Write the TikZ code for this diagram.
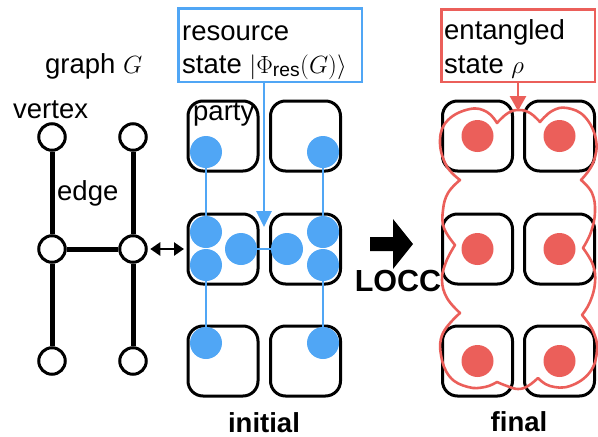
\documentclass[tikz,border=0pt]{standalone}
\usepackage{fontspec}
\setmainfont{Liberation Sans}
\usetikzlibrary{arrows.meta}
\definecolor{myblue}{RGB}{80,166,245}
\definecolor{myred}{RGB}{235,95,90}
\pgfdeclarelayer{bg}
\pgfsetlayers{bg,main}
\begin{document}
\begin{tikzpicture}[x=1pt,y=-1pt,
  lbl/.style={inner sep=0,font=\fontsize{27.5}{32}\selectfont},
  lblb/.style={inner sep=0,font=\bfseries\fontsize{27.5}{32}\selectfont},
  party/.style={draw,line width=3pt,rounded corners=15pt,minimum width=70pt,minimum height=70pt,inner sep=0},
  bdot/.style={circle,fill=myblue,minimum size=32pt,inner sep=0},
  rdot/.style={circle,fill=myred,minimum size=32pt,inner sep=0},
  vert/.style={circle,draw,fill=white,line width=3pt,minimum size=26.5pt,inner sep=0},
  edgeline/.style={line width=5pt},
  bline/.style={myblue,line width=2.6pt},
  cloudline/.style={myred,line width=2.6pt,line join=round},
  tagbox/.style={line width=2.5pt,inner sep=0},
]
\useasboundingbox (0,0) rectangle (598,437);

% party boxes
\begin{pgfonlayer}{bg}
\node[party] (i11) at (223,136) {};
\node[party] (i12) at (305.5,136) {};
\node[party] (i21) at (223,249) {};
\node[party] (i22) at (305.5,249) {};
\node[party] (i31) at (223,361) {};
\node[party] (i32) at (305.5,361) {};
\node[party] (f11) at (477.5,136) {};
\node[party] (f12) at (559.5,136) {};
\node[party] (f21) at (477.5,249) {};
\node[party] (f22) at (559.5,249) {};
\node[party] (f31) at (477.5,361) {};
\node[party] (f32) at (559.5,361) {};
\end{pgfonlayer}

% graph G
\node[vert] (v11) at (52,137) {};
\node[vert] (v12) at (133,137) {};
\node[vert] (v21) at (52,249) {};
\node[vert] (v22) at (133,249) {};
\node[vert] (v31) at (52,361) {};
\node[vert] (v32) at (133,361) {};
\begin{pgfonlayer}{bg}
\draw[edgeline] (v11) -- (v21);
\draw[edgeline] (v21) -- (v31);
\draw[edgeline] (v12) -- (v22);
\draw[edgeline] (v22) -- (v32);
\draw[edgeline] (v21) -- (v22);
\end{pgfonlayer}
\draw[line width=2.8pt,{Triangle[width=13pt,length=10pt]}-{Triangle[width=13pt,length=10pt]},shorten <=2.5pt,shorten >=2.5pt] (v22) -- (i21);

% labels left
\node[lbl,anchor=base west] (lg) at (45,73) {graph $G$};
\node[lbl,anchor=base west] (lv) at (13,118) {vertex};
\node[lbl,anchor=base west] (le) at (57,200) {edge};
\node[lbl,anchor=base west] (lp) at (193,120) {party};

% blue resource state
\node[bdot] (b11) at (206,152) {};
\node[bdot] (b12) at (323,152) {};
\node[bdot] (b21a) at (206,232) {};
\node[bdot] (b21b) at (206,265) {};
\node[bdot] (b21c) at (241,249) {};
\node[bdot] (b22c) at (287,249) {};
\node[bdot] (b22a) at (323,232) {};
\node[bdot] (b22b) at (323,265) {};
\node[bdot] (b31) at (206,343) {};
\node[bdot] (b32) at (323,343) {};
\draw[bline] (b11) -- (b21a);
\draw[bline] (b21b) -- (b31);
\draw[bline] (b12) -- (b22a);
\draw[bline] (b22b) -- (b32);
\draw[bline] (b21c) -- (b22c);

\node[tagbox,draw=myblue,minimum width=183.5pt,minimum height=73.5pt] (res) at (270,45) {};
\node[lbl,anchor=base west] (rt1) at (182,40) {resource};
\node[lbl,anchor=base west] (rt2) at (182,73) {state $|\Phi_{\mathrm{res}}(G)\rangle$};
\coordinate (bt) at (264,227);
\draw[myblue,line width=2.8pt,-{Triangle[width=15pt,length=16pt]}] (res.south -| bt) -- (bt);

% LOCC arrow
\fill (370,237) -- (393,237) -- (393,219) -- (413,244) -- (393,269) -- (393,251) -- (370,251) -- cycle;
\node[lblb,anchor=base,font=\bfseries\fontsize{30.5}{34}\selectfont] (locc) at (398,291) {LOCC};

% red final state
\draw[cloudline]
  plot[smooth,tension=0.7] coordinates {(497,123) (508,113) (519,110) (530,113) (540,122)}
  -- plot[smooth,tension=0.7] coordinates {(540,122) (552,111) (567,108) (585,117) (596,140) (593,163) (581,180)}
  -- plot[smooth,tension=0.7] coordinates {(581,180) (592,193) (595,212) (591,232) (583,248)}
  -- plot[smooth,tension=0.7] coordinates {(583,248) (593,265) (595,283) (590,302) (582,315)}
  -- plot[smooth,tension=0.7] coordinates {(582,315) (593,331) (597,350) (590,372) (570,386) (550,386) (538,378)}
  -- plot[smooth,tension=0.7] coordinates {(538,378) (528,386) (518,389) (507,386) (497,382)}
  -- plot[smooth,tension=0.7] coordinates {(497,382) (485,387) (468,387) (450,377) (441,355) (443,333) (460,313)}
  -- plot[smooth,tension=0.7] coordinates {(460,313) (447,298) (442,280) (446,262) (455,245)}
  -- plot[smooth,tension=0.7] coordinates {(455,245) (444,228) (443,210) (448,193) (460,180)}
  -- plot[smooth,tension=0.7] coordinates {(460,180) (446,165) (440,140) (448,120) (470,109) (487,112) (497,123)}
  -- cycle;
\node[rdot] (r11) at (f11) {};
\node[rdot] (r12) at (f12) {};
\node[rdot] (r21) at (f21) {};
\node[rdot] (r22) at (f22) {};
\node[rdot] (r31) at (f31) {};
\node[rdot] (r32) at (f32) {};

\node[tagbox,draw=myred,minimum width=153.5pt,minimum height=72.5pt] (ent) at (518,45.5) {};
\node[lbl,anchor=base west] (et1) at (444,39) {entangled};
\node[lbl,anchor=base west] (et2) at (444,73) {state $\rho$};
\coordinate (rt) at (518,111);
\draw[myred,line width=2.8pt,-{Triangle[width=16pt,length=15pt]}] (ent.south) -- (rt);

% bottom captions
\node[lblb,anchor=base] (cap1) at (264,432) {initial};
\node[lblb,anchor=base] (cap2) at (519,431) {final};
\end{tikzpicture}
\end{document}
